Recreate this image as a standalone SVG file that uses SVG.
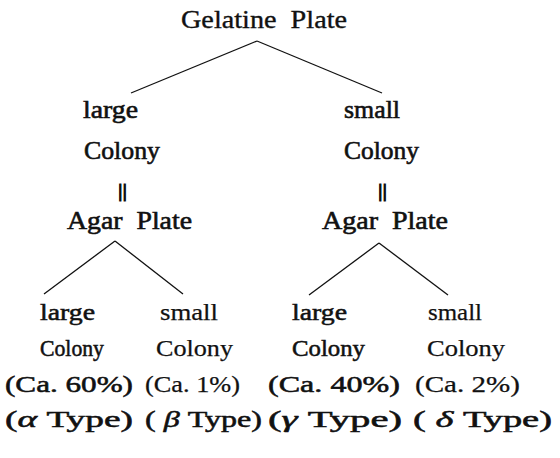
<svg xmlns="http://www.w3.org/2000/svg" width="560" height="458" viewBox="0 0 560 458">
<style>
.t{font-family:'Liberation Serif','DejaVu Serif',serif;fill:#111;stroke:#111;}
.g{font-size:25px;stroke-width:0.35px;}
.b{font-size:25px;stroke-width:0.6px;}
.s{font-size:24px;stroke-width:0.55px;}
.sn{font-size:24px;stroke-width:0.25px;}
.eq{font-size:19px;stroke-width:1px;}
.c line{stroke:#111;stroke-width:1.3;}
</style>
<rect width="560" height="458" fill="#fff"/>
<g id="connectors" class="c">
<line x1="257" y1="41" x2="131" y2="93"/>
<line x1="257" y1="41" x2="382" y2="93"/>
<line x1="115" y1="241" x2="44" y2="294"/>
<line x1="115" y1="241" x2="183" y2="294"/>
<line x1="379" y1="243" x2="309" y2="295"/>
<line x1="379" y1="243" x2="448" y2="295"/>
</g>
<g class="t" font-family="Liberation Serif, DejaVu Serif, serif">
<g id="gelatine"><text class="g" x="181" y="28" textLength="166" lengthAdjust="spacingAndGlyphs" xml:space="preserve">Gelatine  Plate</text></g>
<g id="large-colony-top">
<text class="b" x="83" y="118" textLength="55" lengthAdjust="spacingAndGlyphs">large</text>
<text class="b" x="84" y="159" textLength="76" lengthAdjust="spacingAndGlyphs">Colony</text>
<text class="eq" x="118" y="197" textLength="9" lengthAdjust="spacingAndGlyphs">||</text>
</g>
<g id="small-colony-top">
<text class="b" x="344" y="118" textLength="56" lengthAdjust="spacingAndGlyphs">small</text>
<text class="b" x="344" y="159" textLength="75" lengthAdjust="spacingAndGlyphs">Colony</text>
<text class="eq" x="378" y="197" textLength="9" lengthAdjust="spacingAndGlyphs">||</text>
</g>
<g id="agar-left"><text class="b" x="67" y="229" textLength="125" lengthAdjust="spacingAndGlyphs" xml:space="preserve">Agar  Plate</text></g>
<g id="agar-right"><text class="b" x="322" y="229" textLength="126" lengthAdjust="spacingAndGlyphs" xml:space="preserve">Agar  Plate</text></g>
<g id="alpha">
<text class="s" x="40" y="320" textLength="55" lengthAdjust="spacingAndGlyphs">large</text>
<text class="s" x="40" y="356" textLength="64" lengthAdjust="spacingAndGlyphs">Colony</text>
<text class="s" x="5" y="392" textLength="128" lengthAdjust="spacingAndGlyphs">(Ca. 60%)</text>
<text class="s" x="5" y="427" textLength="128" lengthAdjust="spacingAndGlyphs">(<tspan font-style="italic">α</tspan> Type)</text>
</g>
<g id="beta">
<text class="sn" x="160" y="320" textLength="58" lengthAdjust="spacingAndGlyphs">small</text>
<text class="sn" x="156" y="356" textLength="77" lengthAdjust="spacingAndGlyphs">Colony</text>
<text class="sn" x="145" y="392" textLength="95" lengthAdjust="spacingAndGlyphs">(Ca. 1%)</text>
<text class="s" x="145" y="427" textLength="117" lengthAdjust="spacingAndGlyphs">( <tspan font-style="italic">β</tspan> Type)</text>
</g>
<g id="gamma">
<text class="s" x="292" y="320" textLength="55" lengthAdjust="spacingAndGlyphs">large</text>
<text class="s" x="292" y="356" textLength="73" lengthAdjust="spacingAndGlyphs">Colony</text>
<text class="s" x="268" y="392" textLength="132" lengthAdjust="spacingAndGlyphs">(Ca. 40%)</text>
<text class="s" x="268" y="427" textLength="134" lengthAdjust="spacingAndGlyphs">(<tspan font-style="italic">γ</tspan> Type)</text>
</g>
<g id="delta">
<text class="sn" x="428" y="320" textLength="54" lengthAdjust="spacingAndGlyphs">small</text>
<text class="sn" x="427" y="356" textLength="78" lengthAdjust="spacingAndGlyphs">Colony</text>
<text class="sn" x="415" y="392" textLength="105" lengthAdjust="spacingAndGlyphs">(Ca. 2%)</text>
<text class="s" x="413" y="427" textLength="139" lengthAdjust="spacingAndGlyphs">( <tspan font-style="italic">δ</tspan> Type)</text>
</g>
</g>
</svg>
